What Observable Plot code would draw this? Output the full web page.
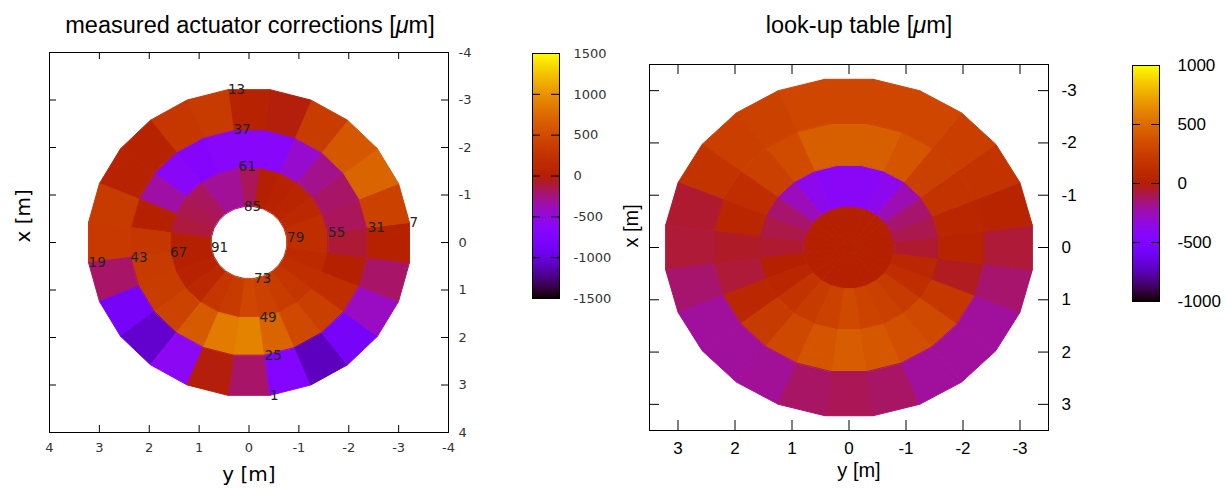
<!DOCTYPE html>
<html><head><meta charset="utf-8">
<script src="https://cdn.jsdelivr.net/npm/d3@7"></script>
<script src="https://cdn.jsdelivr.net/npm/@observablehq/plot@0.6"></script>
<style>
body{margin:0;background:#fff;}
#root{position:relative;width:1225px;height:489px;overflow:hidden;background:#fff;}
.abs{position:absolute;}
.title{font-family:"Liberation Sans",Arial,sans-serif;font-size:23.5px;color:#000;white-space:nowrap;transform:translate(-50%,-50%);}
</style></head><body><div id="root"></div>
<script>
// ---------- data ----------
// cell values per ring; sector k is centred on angle -15k degrees (k=0 at +x / bottom)
const measuredOuter  = [-200,-700,-1100,-850,-420,-200,30,400,700,600,350,-20,50,330,300,40,50,330,320,-200,-850,-1050,-600,-20];
const measuredMiddle = [900,700,480,380,200,0,-100,-170,-200,-280,-450,-650,-650,-650,-680,-620,-330,0,300,340,350,420,620,850];
const measuredInner  = [450,400,350,280,200,150,200,200,130,80,40,0,-170,-300,-300,-180,-150,-120,10,10,40,100,280,330];
const measuredRadii  = [0.77, 1.60, 2.40, 3.245];

const lutOuter  = [-110,-130,-210,-210,-210,-140,-70,40,170,250,300,300,300,300,270,250,170,-60,-70,-140,-210,-210,-200,-130];
const lutMiddle = [430,400,350,320,200,-40,40,60,170,260,380,440,440,440,330,260,120,60,-50,-70,70,230,310,380];
const lutInner  = [320,280,260,220,120,70,-60,-100,-140,-250,-380,-420,-420,-420,-380,-260,-140,-90,-60,10,60,170,220,270];
const lutCenter = [10,10,10,10,10,10,10,10,10,10,10,10,10,10,10,10,10,10,10,10,10,10,10,10];
const lutRadii  = [0, 0.80, 1.59, 2.40, 3.245];

const actuatorLabels = [1,7,13,19,25,31,37,43,49,55,61,67,73,79,85,91];

const leftTicksX = [4,3,2,1,0,-1,-2,-3,-4];
const leftTicksY = [-4,-3,-2,-1,0,1,2,3,4];
const rightTicksX = [3,2,1,0,-1,-2,-3];
const rightTicksY = [-3,-2,-1,0,1,2,3];
const cbLeftTicks = [-1500,-1000,-500,0,500,1000,1500];
const cbRightTicks = [-1000,-500,0,500,1000];

// ---------- helpers ----------
function gnuplotPal(t){ // rgbformulae 7,5,15
  t = Math.max(0, Math.min(1, t));
  const r = Math.sqrt(t), g = t*t*t, b = Math.max(0, Math.sin(2*Math.PI*t));
  return `rgb(${Math.round(r*255)},${Math.round(g*255)},${Math.round(b*255)})`;
}
const deg = Math.PI/180;
function buildCells(rings){ // rings: [{r0,r1,values}]
  const out = [];
  rings.forEach((ring, ri) => ring.values.forEach((v, k) => {
    const a0 = (-15*k - 7.5)*deg, a1 = (-15*k + 7.5)*deg;
    const pts = ring.r0 === 0
      ? [[0,a0],[ring.r1,a0],[ring.r1,a1]]
      : [[ring.r0,a0],[ring.r1,a0],[ring.r1,a1],[ring.r0,a1]];
    pts.forEach(([r,a]) => out.push({id: ri*24+k, value: v, h: r*Math.sin(a), v: r*Math.cos(a)}));
  }));
  return out;
}
function actuatorPos(n, radii){ // ring 0 = outer
  const ring = Math.floor((n-1)/24), idx = (n-1)%24;
  const r = radii[radii.length-1-ring];
  const a = (-7.5 - 15*idx)*deg;
  return {n, h: r*Math.sin(a), v: r*Math.cos(a)};
}
const fmt = d => String(d);

function panel(o){
  const fw = o.width - o.ml - o.mr, fh = o.height - o.mt - o.mb;
  return Plot.plot({
    width: o.width, height: o.height,
    marginLeft: o.ml, marginRight: o.mr, marginTop: o.mt, marginBottom: o.mb,
    style: {fontFamily: o.font, fontSize: o.fontSize+"px", color: o.textColor, background: "transparent"},
    x: {domain: o.xDomain, label: null},
    y: {domain: o.yDomain, label: null},
    color: {type: "linear", domain: o.colorDomain, interpolate: gnuplotPal},
    marks: [
      Plot.line(o.cells, {x: "h", y: "v", z: "id", fill: "value", stroke: "value", strokeWidth: 1, curve: "linear-closed"}),
      ...(o.labels || []),
      Plot.tickX(o.ticksX, {x: d => d, insetTop: fh - o.tickLen, stroke: "#000"}),
      Plot.tickX(o.ticksX, {x: d => d, insetBottom: fh - o.tickLen, stroke: "#000"}),
      Plot.tickY(o.ticksY, {y: d => d, insetRight: fw - o.tickLen, stroke: "#000"}),
      Plot.tickY(o.ticksY, {y: d => d, insetLeft: fw - o.tickLen, stroke: "#000"}),
      Plot.frame({stroke: "#000"}),
      Plot.axisX(o.ticksX, {anchor: "bottom", tickSize: 0, tickPadding: o.padX, tickFormat: fmt, fill: o.textColor}),
      Plot.axisY(o.ticksY, {anchor: "right", tickSize: 0, tickPadding: o.padY, tickFormat: fmt, fill: o.textColor}),
      Plot.text(["y [m]"], {frameAnchor: "bottom", dx: o.ylabDx, dy: o.ylabDy, fontSize: o.labSize, fill: "#000", fontFamily: o.labFont}),
      Plot.text(["x [m]"], {frameAnchor: "left", dx: o.xlabDx, rotate: -90, fontSize: o.labSize, fill: "#000", fontFamily: o.labFont})
    ]
  });
}

function colorbar(o){
  const bw = o.width - o.ml - o.mr;
  const step = (o.domain[1]-o.domain[0])/400;
  const steps = d3.range(o.domain[0], o.domain[1], step);
  return Plot.plot({
    width: o.width, height: o.height,
    marginLeft: o.ml, marginRight: o.mr, marginTop: o.mt, marginBottom: o.mb,
    style: {fontFamily: o.font, fontSize: o.fontSize+"px", color: o.textColor, background: "transparent"},
    x: {domain: [0,1], axis: null},
    y: {domain: o.domain, label: null},
    color: {type: "linear", domain: o.domain, interpolate: gnuplotPal},
    marks: [
      Plot.rect(steps, {x1: 0, x2: 1, y1: d => d, y2: d => d + step*1.6, fill: d => d + step/2, shapeRendering: "crispEdges"}),
      Plot.tickY(o.ticks, {y: d => d, insetRight: bw - 8, stroke: "#000"}),
      Plot.tickY(o.ticks, {y: d => d, insetLeft: bw - 8, stroke: "#000"}),
      Plot.frame({stroke: "#000"}),
      Plot.axisY(o.ticks, {anchor: "right", tickSize: 0, tickPadding: o.pad, tickFormat: fmt, fill: o.textColor})
    ]
  });
}

// ---------- build ----------
const root = document.getElementById("root");
function place(el, left, top){ el.style.position = "absolute"; el.style.left = left+"px"; el.style.top = top+"px"; root.appendChild(el); return el; }

const mCells = buildCells([
  {r0: measuredRadii[0], r1: measuredRadii[1], values: measuredInner},
  {r0: measuredRadii[1], r1: measuredRadii[2], values: measuredMiddle},
  {r0: measuredRadii[2], r1: measuredRadii[3], values: measuredOuter}
]);
const labelPts = actuatorLabels.map(n => actuatorPos(n, measuredRadii));

place(panel({
  width: 500, height: 489, ml: 49, mr: 52, mt: 52, mb: 57,
  xDomain: [4,-4], yDomain: [4,-4], colorDomain: [-1500,1500],
  cells: mCells, ticksX: leftTicksX, ticksY: leftTicksY, tickLen: 7,
  font: "'DejaVu Sans', sans-serif", fontSize: 13, textColor: "#333",
  padX: 10, padY: 10, labSize: 20, labFont: "'DejaVu Sans', sans-serif",
  ylabDx: 0, ylabDy: 48, xlabDx: -26,
  labels: [Plot.text(labelPts, {x: "h", y: "v", text: "n", textAnchor: "start", fontSize: 13.5, fill: "#222"})]
}), 0, 0);

const lCells = buildCells([
  {r0: lutRadii[0], r1: lutRadii[1], values: lutCenter},
  {r0: lutRadii[1], r1: lutRadii[2], values: lutInner},
  {r0: lutRadii[2], r1: lutRadii[3], values: lutMiddle},
  {r0: lutRadii[3], r1: lutRadii[4], values: lutOuter}
]);
place(panel({
  width: 510, height: 489, ml: 59, mr: 52, mt: 64, mb: 59,
  xDomain: [3.5,-3.5], yDomain: [3.5,-3.5], colorDomain: [-1000,1000],
  cells: lCells, ticksX: rightTicksX, ticksY: rightTicksY, tickLen: 10,
  font: "'Liberation Sans', Arial, sans-serif", fontSize: 17, textColor: "#000",
  padX: 11, padY: 13, labSize: 20, labFont: "'Liberation Sans', Arial, sans-serif",
  ylabDx: 10, ylabDy: 46, xlabDx: -18
}), 590, 0);

place(colorbar({width: 100, height: 270, ml: 12, mr: 61, mt: 13, mb: 12, domain: [-1500,1500], ticks: cbLeftTicks,
  font: "'DejaVu Sans', sans-serif", fontSize: 13, textColor: "#333", pad: 14}), 520, 40);
place(colorbar({width: 105, height: 265, ml: 12, mr: 66, mt: 15, mb: 14, domain: [-1000,1000], ticks: cbRightTicks,
  font: "'Liberation Sans', Arial, sans-serif", fontSize: 17, textColor: "#000", pad: 18}), 1120, 50);

const t1 = document.createElement("div"); t1.className = "title"; t1.innerHTML = "measured actuator corrections [<i>μ</i>m]"; place(t1, 250, 25);
const t2 = document.createElement("div"); t2.className = "title"; t2.innerHTML = "look-up table [<i>μ</i>m]"; place(t2, 859, 25);
</script></body></html>
